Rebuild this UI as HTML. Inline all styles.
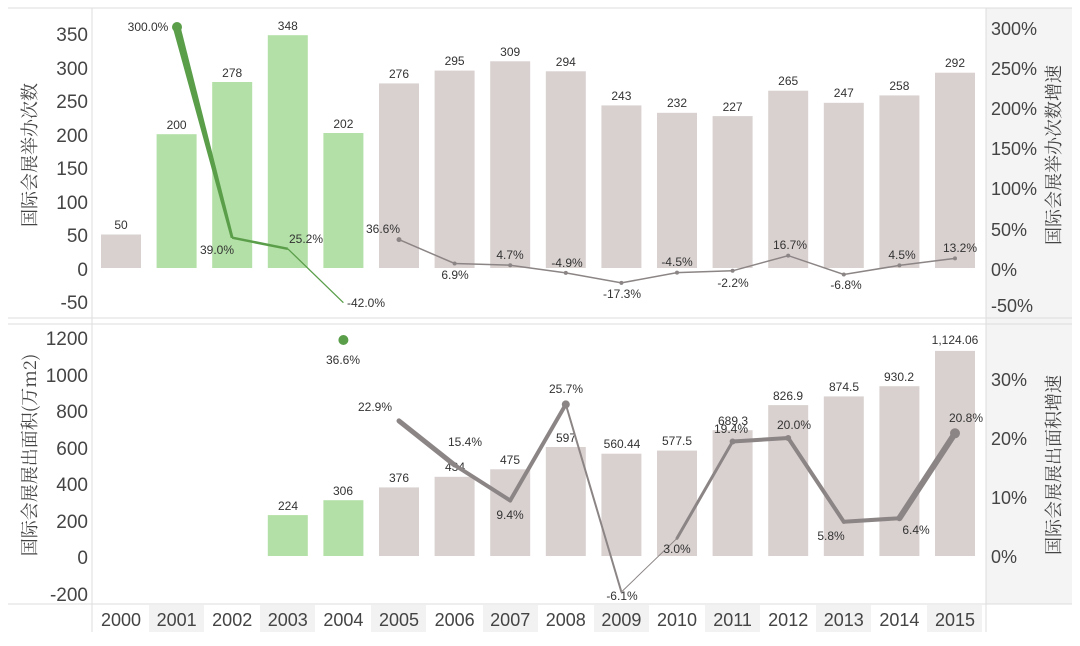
<!DOCTYPE html>
<html><head><meta charset="utf-8"><style>
body{margin:0;background:#fff}
svg text{font-family:"Liberation Sans","Noto Sans CJK SC",sans-serif}
.ax{font-size:19px;fill:#444}
.rx{font-size:18px;fill:#444}
.lb{font-size:12px;fill:#333;text-anchor:middle}
.yr{font-size:18px;fill:#444;text-anchor:middle}
.tt{font-family:"Noto Serif CJK SC","Liberation Serif",serif !important;font-size:18px;fill:#444;text-anchor:middle}
</style></head><body>
<svg width="1080" height="641" viewBox="0 0 1080 641" xmlns="http://www.w3.org/2000/svg">
<rect x="986" y="8" width="86" height="596" fill="#f4f4f4"/>
<line x1="8" y1="8" x2="1072" y2="8" stroke="#ddd"/>
<line x1="8" y1="318" x2="1072" y2="318" stroke="#ddd"/>
<line x1="8" y1="324" x2="1072" y2="324" stroke="#ddd"/>
<line x1="8" y1="604" x2="1072" y2="604" stroke="#ddd"/>
<line x1="92" y1="8" x2="92" y2="632" stroke="#ddd"/>
<line x1="986" y1="8" x2="986" y2="632" stroke="#ddd"/>
<g fill="#f2f2f2">
<rect x="149" y="605" width="55" height="27"/><rect x="260" y="605" width="55" height="27"/><rect x="371" y="605" width="55" height="27"/><rect x="483" y="605" width="55" height="27"/><rect x="594" y="605" width="55" height="27"/><rect x="705" y="605" width="55" height="27"/><rect x="816" y="605" width="55" height="27"/><rect x="927" y="605" width="55" height="27"/>
</g>
<!-- left axis top -->
<g class="ax" text-anchor="end">
<text x="88" y="41">350</text><text x="88" y="75">300</text><text x="88" y="108">250</text><text x="88" y="142">200</text><text x="88" y="175">150</text><text x="88" y="209">100</text><text x="88" y="242">50</text><text x="88" y="276">0</text><text x="88" y="309">-50</text>
<text x="88" y="345">1200</text><text x="88" y="382">1000</text><text x="88" y="418">800</text><text x="88" y="455">600</text><text x="88" y="491">400</text><text x="88" y="528">200</text><text x="88" y="564">0</text><text x="88" y="601">-200</text>
</g>
<g class="rx">
<text x="991" y="35">300%</text><text x="991" y="75">250%</text><text x="991" y="115">200%</text><text x="991" y="155">150%</text><text x="991" y="195">100%</text><text x="991" y="236">50%</text><text x="991" y="276">0%</text><text x="991" y="312">-50%</text>
<text x="991" y="386">30%</text><text x="991" y="445">20%</text><text x="991" y="504">10%</text><text x="991" y="563">0%</text>
</g>
<text class="tt" transform="translate(36,155) rotate(-90)">国际会展举办次数</text>
<text class="tt" transform="translate(36,455) rotate(-90)">国际会展展出面积(万m2)</text>
<text class="tt" transform="translate(1060,155) rotate(-90)">国际会展举办次数增速</text>
<text class="tt" transform="translate(1060,465) rotate(-90)">国际会展展出面积增速</text>
<!-- top bars -->
<g fill="#d9d1d0">
<rect x="101" y="234.5" width="40" height="33.5"/>
<rect x="379" y="83.4" width="40" height="184.6"/><rect x="434.6" y="70.6" width="40" height="197.4"/><rect x="490.2" y="61.3" width="40" height="206.7"/><rect x="545.8" y="71.3" width="40" height="196.7"/><rect x="601.4" y="105.4" width="40" height="162.6"/><rect x="657" y="112.8" width="40" height="155.2"/><rect x="712.6" y="116.1" width="40" height="151.9"/><rect x="768.2" y="90.7" width="40" height="177.3"/><rect x="823.8" y="102.8" width="40" height="165.2"/><rect x="879.4" y="95.4" width="40" height="172.6"/><rect x="935" y="72.7" width="40" height="195.3"/>
</g>
<g fill="#b3e0a6">
<rect x="156.6" y="134.2" width="40" height="133.8"/><rect x="212.2" y="82" width="40" height="186"/><rect x="267.8" y="35.2" width="40" height="232.8"/><rect x="323.4" y="133" width="40" height="135"/>
</g>
<g class="lb">
<text x="121" y="229">50</text><text x="176.6" y="129">200</text><text x="232.2" y="77">278</text><text x="287.8" y="30">348</text><text x="343.4" y="128">202</text><text x="399" y="78">276</text><text x="454.6" y="65">295</text><text x="510.2" y="56">309</text><text x="565.8" y="66">294</text><text x="621.4" y="100">243</text><text x="677" y="107">232</text><text x="732.6" y="111">227</text><text x="788.2" y="85">265</text><text x="843.8" y="97">247</text><text x="899.4" y="90">258</text><text x="955" y="67">292</text>
</g>
<!-- top lines -->
<polygon points="172.6,27 180.6,27 233.7,238 230.7,238" fill="#5a9e4a"/>
<circle cx="177" cy="27" r="5" fill="#5a9e4a"/>
<polyline points="232.2,237.7 287.8,248.8" fill="none" stroke="#5a9e4a" stroke-width="2.5"/>
<polyline points="287.8,248.8 343.4,302.7" fill="none" stroke="#5a9e4a" stroke-width="1.3"/>
<polyline points="399,239.6 454.6,263.5 510.2,265.2 565.8,272.9 621.4,282.9 677,272.6 732.6,270.8 788.2,255.6 843.8,274.5 899.4,265.4 955,258.4" fill="none" stroke="#8c8585" stroke-width="1.5"/>
<g fill="#8c8585"><circle cx="399" cy="239.6" r="2.5"/><circle cx="454.6" cy="263.5" r="2"/><circle cx="510.2" cy="265.2" r="2"/><circle cx="565.8" cy="272.9" r="2"/><circle cx="621.4" cy="282.9" r="2"/><circle cx="677" cy="272.6" r="2"/><circle cx="732.6" cy="270.8" r="2"/><circle cx="788.2" cy="255.6" r="2"/><circle cx="843.8" cy="274.5" r="2"/><circle cx="899.4" cy="265.4" r="2"/><circle cx="955" cy="258.4" r="2"/></g>
<g class="lb">
<text x="148" y="31">300.0%</text><text x="217" y="254">39.0%</text><text x="306" y="243">25.2%</text><text x="366" y="307">-42.0%</text><text x="383" y="233">36.6%</text><text x="455" y="279">6.9%</text><text x="510" y="259">4.7%</text><text x="567" y="267">-4.9%</text><text x="622" y="298">-17.3%</text><text x="677" y="266">-4.5%</text><text x="733" y="287">-2.2%</text><text x="790" y="249">16.7%</text><text x="846" y="289">-6.8%</text><text x="902" y="259">4.5%</text><text x="960" y="252">13.2%</text>
</g>
<!-- bottom bars -->
<g fill="#b3e0a6"><rect x="267.8" y="515.1" width="40" height="40.9"/><rect x="323.4" y="500.2" width="40" height="55.8"/></g>
<g fill="#d9d1d0">
<rect x="379" y="487.4" width="40" height="68.6"/><rect x="434.6" y="476.8" width="40" height="79.2"/><rect x="490.2" y="469.3" width="40" height="86.7"/><rect x="545.8" y="447" width="40" height="109"/><rect x="601.4" y="453.7" width="40" height="102.3"/><rect x="657" y="450.6" width="40" height="105.4"/><rect x="712.6" y="430.2" width="40" height="125.8"/><rect x="768.2" y="405.1" width="40" height="150.9"/><rect x="823.8" y="396.4" width="40" height="159.6"/><rect x="879.4" y="386.2" width="40" height="169.8"/><rect x="935" y="350.9" width="40" height="205.1"/>
</g>
<g class="lb">
<text x="288" y="510">224</text><text x="343" y="495">306</text><text x="399" y="482">376</text><text x="455" y="471">434</text><text x="510" y="464">475</text><text x="566" y="442">597</text><text x="622" y="448">560.44</text><text x="677" y="445">577.5</text><text x="733" y="425">689.3</text><text x="788" y="400">826.9</text><text x="844" y="391">874.5</text><text x="899" y="381">930.2</text><text x="955" y="344">1,124.06</text>
</g>
<circle cx="343.4" cy="340" r="5" fill="#5a9e4a"/>
<g fill="none" stroke="#8c8585" stroke-linecap="round">
<line x1="399" y1="420.9" x2="454.6" y2="465.1" stroke-width="5"/>
<line x1="454.6" y1="465.1" x2="510.2" y2="500.5" stroke-width="4"/>
<line x1="510.2" y1="500.5" x2="565.8" y2="404.4" stroke-width="4"/>
<line x1="565.8" y1="404.4" x2="621.4" y2="592" stroke-width="2"/>
<line x1="621.4" y1="592" x2="677" y2="538.3" stroke-width="1"/>
<line x1="677" y1="538.3" x2="732.6" y2="441.5" stroke-width="3"/>
<line x1="732.6" y1="441.5" x2="788.2" y2="438" stroke-width="4"/>
<line x1="788.2" y1="438" x2="843.8" y2="521.8" stroke-width="4"/>
<line x1="843.8" y1="521.8" x2="899.4" y2="518.2" stroke-width="4"/>
<line x1="899.4" y1="518.2" x2="955" y2="433.3" stroke-width="6"/>
</g>
<g fill="#8c8585"><circle cx="565.8" cy="404.4" r="4"/><circle cx="955" cy="433.3" r="5"/><circle cx="788.2" cy="438" r="3"/><circle cx="732.6" cy="441.5" r="3"/></g>
<g class="lb">
<text x="343" y="364">36.6%</text><text x="375" y="411">22.9%</text><text x="465" y="446">15.4%</text><text x="510" y="519">9.4%</text><text x="566" y="393">25.7%</text><text x="622" y="600">-6.1%</text><text x="677" y="553">3.0%</text><text x="731" y="433">19.4%</text><text x="794" y="429">20.0%</text><text x="831" y="540">5.8%</text><text x="916" y="534">6.4%</text><text x="966" y="422">20.8%</text>
</g>
<g class="yr">
<text x="121" y="626">2000</text><text x="176.6" y="626">2001</text><text x="232.2" y="626">2002</text><text x="287.8" y="626">2003</text><text x="343.4" y="626">2004</text><text x="399" y="626">2005</text><text x="454.6" y="626">2006</text><text x="510.2" y="626">2007</text><text x="565.8" y="626">2008</text><text x="621.4" y="626">2009</text><text x="677" y="626">2010</text><text x="732.6" y="626">2011</text><text x="788.2" y="626">2012</text><text x="843.8" y="626">2013</text><text x="899.4" y="626">2014</text><text x="955" y="626">2015</text>
</g>
</svg>
</body></html>
